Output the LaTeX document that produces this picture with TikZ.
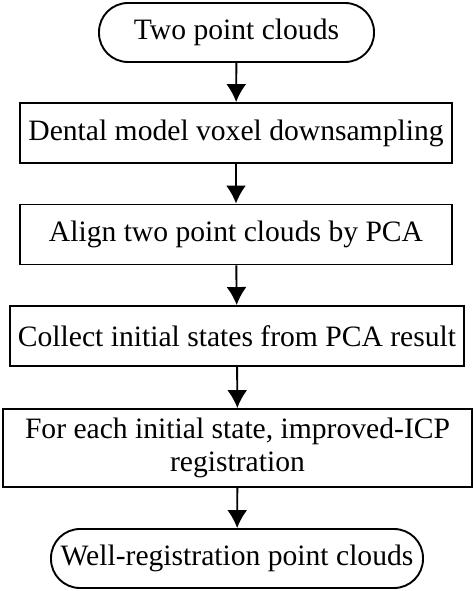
\documentclass[tikz,border=0pt]{standalone}
\usepackage{fontspec}
\setmainfont{Liberation Serif}
\usetikzlibrary{positioning,arrows.meta}

\begin{document}
\begin{tikzpicture}[x=1pt,y=-1pt]
\tikzstyle{stage}=[draw,line width=1.9pt,inner sep=0pt,align=center,font=\fontsize{29.6}{33}\selectfont]
\tikzstyle{terminal}=[stage,rounded corners=29pt,minimum height=59pt]
\tikzstyle{box}=[stage,rectangle,minimum height=60pt]
\tikzstyle{flow}=[-{Latex[length=18pt,width=20pt]},line width=1.9pt]
    \useasboundingbox (0,0) rectangle (475,591);
    \node[terminal,minimum width=275pt] (1) at (236.5,32.5) {Two point clouds};
    \node[box,minimum width=432pt] (2) at (236,133) {Dental model voxel downsampling};
    \node[box,minimum width=432pt] (3) at (236,234.5) {Align two point clouds by PCA};
    \node[box,minimum width=454pt] (4) at (237,336) {Collect initial states from PCA result};
    \node[box,minimum width=469pt,minimum height=78pt] (5) at (237.5,448) {For each initial state, improved-ICP\\registration};
    \node[terminal,minimum width=372pt] (6) at (237,558.5) {Well-registration point clouds};
    \draw[flow] (1) to (2);
    \draw[flow] (2) to (3);
    \draw[flow] (3) to (4);
    \draw[flow] (4) to (5);
    \draw[flow] (5) to (6);
  \end{tikzpicture}
\end{document}
